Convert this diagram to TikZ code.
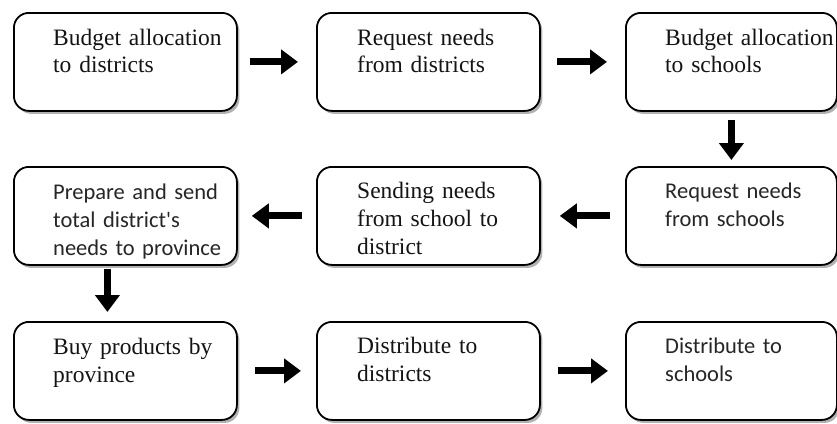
\documentclass[tikz,border=0pt]{standalone}
\usepackage{fontspec}
\setmainfont{Liberation Serif}
\newfontfamily\calib{Carlito}
\usetikzlibrary{arrows.meta,shadows}
\begin{document}
\begin{tikzpicture}[x=1pt,y=-1pt,
  box/.style={draw=black, line width=1.8pt, rounded corners=15pt, fill=white,
    anchor=north west, inner sep=0pt, minimum height=98pt, minimum width=223pt,
    drop shadow={shadow xshift=2.5pt, shadow yshift=-3pt, opacity=0.3, fill=black}},
  narrow/.style={minimum width=211pt},
  txt/.style={anchor=base west, inner sep=0pt, text width=200pt, align=left,
    font=\fontsize{23.5}{28}\selectfont, text=black!92},
  stxt/.style={txt, font=\calib\fontsize{22.5}{28}\selectfont, text=black!85},
  arr/.style={line width=7pt, -{Triangle[length=17pt,width=24pt]}}
]
\useasboundingbox (0,0) rectangle (837,423);
% row 1
\node[box] (b1) at (13,12) {};
\node[box] (b2) at (316,12) {};
\node[box,narrow] (b3) at (625,12) {};
% row 2
\node[box] (b4) at (13,166) {};
\node[box] (b5) at (316,166) {};
\node[box,narrow] (b6) at (625,166) {};
% row 3
\node[box] (b7) at (13,321) {};
\node[box] (b8) at (316,321) {};
\node[box,narrow] (b9) at (625,321) {};
% texts
\node[txt] (t1) at (53,45) {Budget allocation\\to districts};
\node[txt] (t2) at (357,45) {Request needs\\from districts};
\node[txt] (t3) at (665,45) {Budget allocation\\to schools};
\node[stxt] (t4) at (53,199) {Prepare and send\\total district's\\needs to province};
\node[txt] (t5) at (357,198) {Sending needs\\from school to\\district};
\node[stxt] (t6) at (665,198) {Request needs\\from schools};
\node[txt] (t7) at (53,354) {Buy products by\\province};
\node[txt] (t8) at (357,353) {Distribute to\\districts};
\node[stxt] (t9) at (665,353) {Distribute to\\schools};
% arrows
\draw[arr, shorten <=12pt, shorten >=18pt] (b1) -- (b2);
\draw[arr, shorten <=16pt, shorten >=18pt] (b2) -- (b3);
\draw[arr, shorten <=8pt, shorten >=6pt] (b3) -- (b6);
\draw[arr, shorten <=15pt, shorten >=19pt] (b6) -- (b5);
\draw[arr, shorten <=14pt, shorten >=14pt] (b5) -- (b4);
\draw[arr, shorten <=3pt, shorten >=9pt] ([xshift=-18pt]b4.south) -- ([xshift=-18pt]b7.north);
\draw[arr, shorten <=17pt, shorten >=15pt] (b7) -- (b8);
\draw[arr, shorten <=17pt, shorten >=17pt] (b8) -- (b9);
\end{tikzpicture}
\end{document}
